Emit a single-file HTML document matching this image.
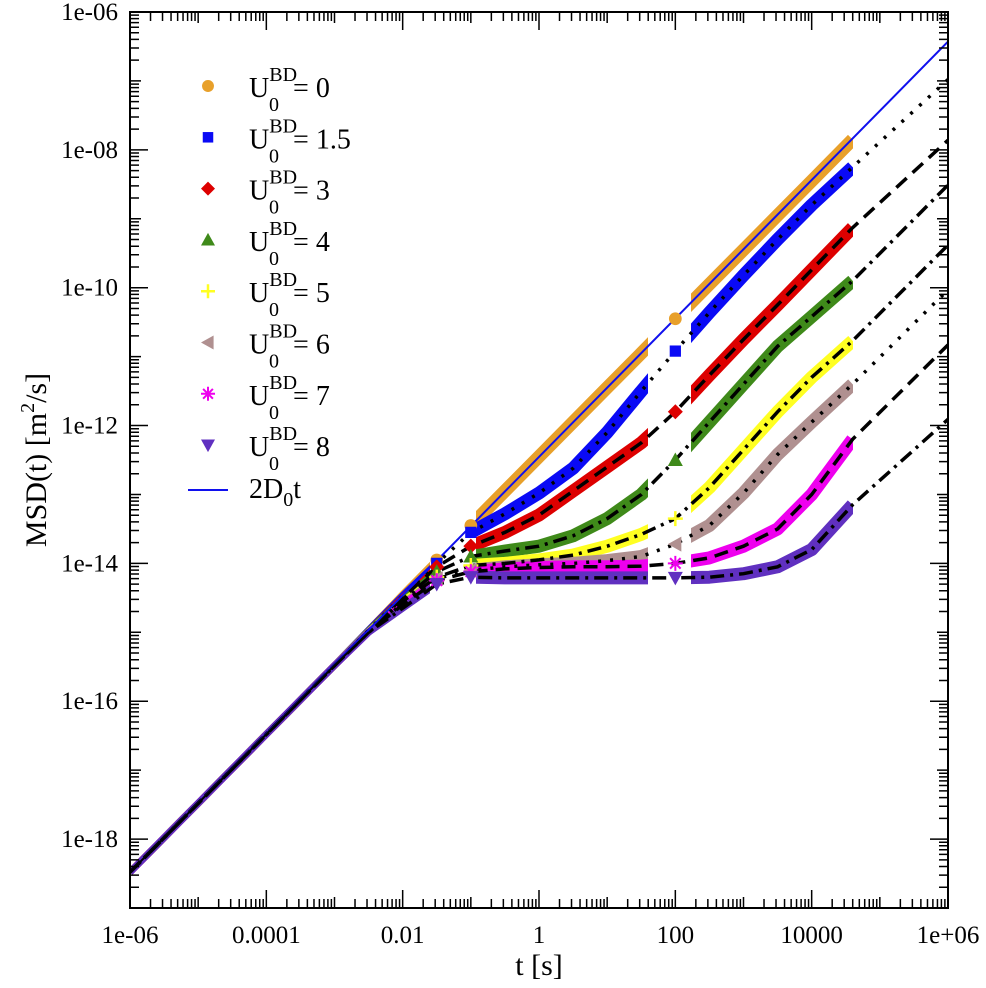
<!DOCTYPE html>
<html><head><meta charset="utf-8"><style>
body{margin:0;background:#fff}
svg text{font-family:"Liberation Serif",serif}
</style></head><body>
<svg id="chart" width="986" height="983" viewBox="0 0 986 983" xmlns="http://www.w3.org/2000/svg">
<defs>
<clipPath id="clipPlot"><rect x="130" y="12" width="818" height="896"/></clipPath>
<clipPath id="clipEarly"><rect x="100" y="0" width="330" height="983"/></clipPath>
<clipPath id="clipBand">
<rect x="476" y="0" width="172" height="983"/>
<rect x="691" y="0" width="162" height="983"/>
</clipPath>
</defs>
<g id="bands" clip-path="url(#clipPlot)"></g>
<g id="fits" clip-path="url(#clipPlot)"></g>
<g id="marks" clip-path="url(#clipPlot)"></g>
<g id="axes"></g>
<g id="legend"></g>
<text x="539" y="975" font-size="30" text-anchor="middle">t [s]</text>
<text transform="translate(46,460) rotate(-90)" font-size="30" text-anchor="middle">MSD(t) [m<tspan dy="-12" font-size="20">2</tspan><tspan dy="12">/s]</tspan></text>
</svg>
<script>
const logT = [-6,-4,-3,-2.5,-2,-1.5,-1,-0.5,0,0.5,1,1.5,2,2.5,3,3.5,4,4.6,6];
const seriesNames = ["0","1.5","3","4","5","6","7","8"];
const msd0 = [-18.48,-16.48,-15.48,-14.97,-14.45,-13.95,-13.45,-12.95,-12.45,-11.95,-11.45,-10.95,-10.45,-9.95,-9.45,-8.95,-8.45,-7.85,null];
const msd15 = [-18.48,-16.48,-15.48,-14.97,-14.47,-14.0,-13.55,-13.28,-12.98,-12.62,-12.1,-11.5,-10.92,-10.36,-9.82,-9.3,-8.8,-8.25,-6.98];
const msd3 = [-18.48,-16.48,-15.48,-14.98,-14.5,-14.05,-13.75,-13.55,-13.3,-12.95,-12.6,-12.25,-11.8,-11.27,-10.75,-10.25,-9.74,-9.13,-7.86];
const msd4 = [-18.48,-16.48,-15.48,-14.98,-14.52,-14.12,-13.9,-13.82,-13.75,-13.6,-13.35,-13.0,-12.5,-11.95,-11.4,-10.85,-10.42,-9.9,-8.51];
const msd5 = [-18.48,-16.48,-15.48,-14.99,-14.55,-14.2,-14.03,-14.0,-13.95,-13.88,-13.75,-13.58,-13.35,-12.9,-12.35,-11.8,-11.3,-10.77,-9.38];
const msd6 = [-18.48,-16.48,-15.48,-14.99,-14.58,-14.22,-14.1,-14.05,-14.02,-14.0,-13.96,-13.9,-13.72,-13.45,-12.98,-12.42,-11.95,-11.4,-10.03];
const msd7 = [-18.48,-16.48,-15.48,-15.0,-14.6,-14.25,-14.12,-14.08,-14.06,-14.05,-14.05,-14.04,-14.0,-13.92,-13.75,-13.5,-13.0,-12.2,-10.83];
const msd8 = [-18.48,-16.48,-15.48,-15.0,-14.65,-14.3,-14.2,-14.21,-14.21,-14.21,-14.21,-14.21,-14.21,-14.2,-14.15,-14.05,-13.8,-13.15,-11.91];
const line2D0 = [-18.48, -6.43]; // log MSD at t=1e-6 and t=1e6
const xTickLabels = ["1e-06","0.0001","0.01","1","100","10000","1e+06"];
const yTickLabels = ["1e-06","1e-08","1e-10","1e-12","1e-14","1e-16","1e-18"];

const NS="http://www.w3.org/2000/svg";
const X0=130,X1=948,Y0=12,Y1=908;
const xMin=-6,xMax=6,yMax=-6,yMin=-19;
function sx(l){return X0+(l-xMin)/(xMax-xMin)*(X1-X0);}
function sy(l){return Y0+(yMax-l)/(yMax-yMin)*(Y1-Y0);}
function mk(tag,attrs,parent){const e=document.createElementNS(NS,tag);for(const k in attrs)e.setAttribute(k,attrs[k]);parent.appendChild(e);return e;}

const allSeries=[msd0,msd15,msd3,msd4,msd5,msd6,msd7,msd8];
const colors=["#e8a02a","#0a0af5","#dd0000","#3f8a1a","#ffff22","#b09090","#ee00ee","#6030c0"];
const shapes=["circle","square","diamond","tri-up","plus","tri-left","star","tri-down"];
const dashes=[null,"3,9","14,8","14,6,3,6","14,6,3,6","3,9","14,8","14,6,3,6"];
const bands=document.getElementById('bands'),fits=document.getElementById('fits'),marks=document.getElementById('marks');

function pathFor(arr,maxT){let d="";arr.forEach((v,i)=>{if(v===null||logT[i]>maxT)return;d+=(d?"L":"M")+sx(logT[i]).toFixed(1)+","+sy(v).toFixed(1);});return d;}

function marker(shape,x,y,s,color,parent){
  let e;
  if(shape==="circle")e=mk('circle',{cx:x,cy:y,r:s*0.85,fill:color},parent);
  else if(shape==="square")e=mk('rect',{x:x-s*0.75,y:y-s*0.75,width:s*1.5,height:s*1.5,fill:color},parent);
  else if(shape==="diamond")e=mk('polygon',{points:`${x},${y-s} ${x+s},${y} ${x},${y+s} ${x-s},${y}`,fill:color},parent);
  else if(shape==="tri-up")e=mk('polygon',{points:`${x},${y-s} ${x+s},${y+s*0.8} ${x-s},${y+s*0.8}`,fill:color},parent);
  else if(shape==="tri-down")e=mk('polygon',{points:`${x},${y+s} ${x+s},${y-s*0.8} ${x-s},${y-s*0.8}`,fill:color},parent);
  else if(shape==="tri-left")e=mk('polygon',{points:`${x-s},${y} ${x+s*0.8},${y-s} ${x+s*0.8},${y+s}`,fill:color},parent);
  else if(shape==="plus")e=mk('path',{d:`M${x-s},${y}H${x+s}M${x},${y-s}V${y+s}`,stroke:color,'stroke-width':2.5},parent);
  else e=mk('path',{d:`M${x-s},${y}H${x+s}M${x},${y-s}V${y+s}M${x-s*0.7},${y-s*0.7}L${x+s*0.7},${y+s*0.7}M${x-s*0.7},${y+s*0.7}L${x+s*0.7},${y-s*0.7}`,stroke:color,'stroke-width':2},parent);
  return e;
}

allSeries.forEach((arr,si)=>{
  const tag=seriesNames[si].replace('.','-');
  const be=mk('path',{d:pathFor(arr,4.6),fill:'none',stroke:colors[si],'stroke-width':7,'stroke-linejoin':'round','clip-path':'url(#clipEarly)'},bands);
  
  
  const b=mk('path',{d:pathFor(arr,4.6),fill:'none',stroke:colors[si],'stroke-width':13,'stroke-linejoin':'round','clip-path':'url(#clipBand)'},bands);
  
  
  arr.forEach((v,i)=>{
    const t=logT[i];
    if(v===null)return;
    if(!((t>=-1.6&&t<=-0.9)||(t>=1.7&&t<=2.2)))return;
    const m=marker(shapes[si],sx(t),sy(v),7.5,colors[si],marks);
    
    
  });
  if(dashes[si]){
    const f=mk('path',{d:pathFor(arr,6),fill:'none',stroke:'#000','stroke-width':3.5,'stroke-dasharray':dashes[si]},fits);
    
    
  }
});
const ln=mk('line',{x1:sx(-6),y1:sy(line2D0[0]),x2:sx(6),y2:sy(line2D0[1]),stroke:'#1010ee','stroke-width':2},fits);


const ln2=mk('path',{d:pathFor(msd8,-2.5),fill:'none',stroke:'#000','stroke-width':2},fits);



// axes
const axes=document.getElementById('axes');
const frame=mk('rect',{x:X0,y:Y0,width:X1-X0,height:Y1-Y0,fill:'none',stroke:'#000','stroke-width':2},axes);


let td="";
for(let d=xMin;d<=xMax;d++){
  const x=sx(d);const L=(d%2===0)?18:11;
  td+=`M${x},${Y1}v${-L}M${x},${Y0}v${L}`;
  if(d<xMax)for(let k=2;k<10;k++){const xx=sx(d+Math.log10(k));td+=`M${xx},${Y1}v-9M${xx},${Y0}v9`;}
}
for(let d=yMin;d<=yMax;d++){
  const y=sy(d);const L=(d%2===0)?18:11;
  td+=`M${X0},${y}h${L}M${X1},${y}h${-L}`;
  if(d<yMax)for(let k=2;k<10;k++){const yy=sy(d+Math.log10(k));td+=`M${X0},${yy}h9M${X1},${yy}h-9`;}
}
const ticks=mk('path',{d:td,stroke:'#000','stroke-width':1.5,fill:'none'},axes);


xTickLabels.forEach((t,i)=>{
  const e=mk('text',{x:sx(-6+2*i),y:943,'font-size':25,'text-anchor':'middle'},axes);e.textContent=t;
  
  
});
yTickLabels.forEach((t,i)=>{
  const e=mk('text',{x:118,y:sy(-6-2*i)+8,'font-size':25,'text-anchor':'end'},axes);e.textContent=t;
  
  
});

// legend
const lg=document.getElementById('legend');
seriesNames.forEach((n,i)=>{
  const y=86+51.3*i;
  const g=mk('g',{},lg);
  
  
  marker(shapes[i],208,y,7,colors[i],g);
  const t=mk('text',{x:249,y:y+11,'font-size':28},g);
  t.innerHTML=`U<tspan font-size="20" dy="-16">BD</tspan><tspan font-size="20" dx="-28" dy="30">0</tspan><tspan dy="-14" dx="14">= ${n}</tspan>`;
});
const lgl=mk('g',{},lg);


mk('line',{x1:188,y1:490,x2:228,y2:490,stroke:'#1010ee','stroke-width':2},lgl);
const lt=mk('text',{x:249,y:498,'font-size':28},lgl);
lt.innerHTML=`2D<tspan font-size="20" dy="8">0</tspan><tspan dy="-8">t</tspan>`;
</script>
</body></html>
